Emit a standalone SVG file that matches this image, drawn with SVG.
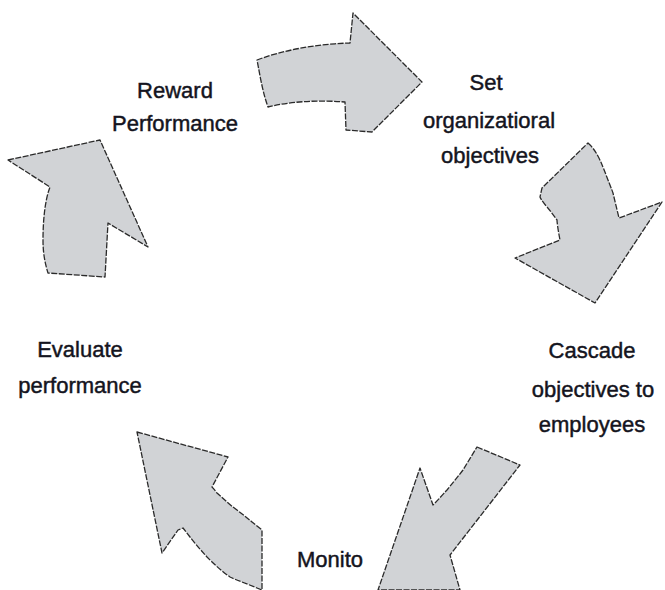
<svg xmlns="http://www.w3.org/2000/svg" width="665" height="590" viewBox="0 0 665 590">
<style>
.arrow{fill:#d1d3d6;stroke:#2a2a2a;stroke-width:1.3;stroke-dasharray:6 1.5;stroke-linejoin:round}
.lbl{font-family:"Liberation Sans",Arial,sans-serif;font-size:22px;fill:#141420;stroke:#141420;stroke-width:0.45;text-anchor:middle}
</style>
<rect width="665" height="590" fill="#ffffff"/>
<g id="connectors">
<path class="arrow" d="M257,60 C283,50 317,44 350,43 L353,13 L422,82 L372,132 L346,130 L345,102 C320,100 292,101 268,107 C262,90 260,75 257,60 Z"/>
<path class="arrow" d="M588,143 C596,150 600,160 603,167 C608,180 612,190 613,193 L619,218 L662,202 L595,303 L515,258 L560,240 C558,230 557,222 557,220 C552,213 548,208 547,207 C541,200 540,197 540,197 L542,188 Z"/>
<path class="arrow" d="M477,447 L520,465 L450,555 L460,590 L378,590 L420,468 L433,505 C440,498 445,492 447,490 C455,480 460,474 463,470 Z"/>
<path class="arrow" d="M137,432 L228,457 L212,487 C215,490 216,492 217,493 C225,500 230,505 233,507 C245,516 252,522 262,530 L262,590 L257,588 C245,583 236,580 230,577 C220,570 212,562 207,557 C198,547 193,541 190,537 L183,528 L178,530 L162,553 Z"/>
<path class="arrow" d="M8,160 L100,140 L148,247 L108,223 C107,240 106,260 105,277 L48,273 C44,260 43,250 43,240 C43,220 45,200 50,187 Z"/>
</g>
<g id="node-reward">
<text class="lbl" x="175" y="98">Reward</text>
<text class="lbl" x="175" y="131">Performance</text>
</g>
<g id="node-set">
<text class="lbl" x="486" y="90">Set</text>
<text class="lbl" x="489" y="128">organizatioral</text>
<text class="lbl" x="490" y="163">objectives</text>
</g>
<g id="node-cascade">
<text class="lbl" x="592" y="358">Cascade</text>
<text class="lbl" x="593" y="397">objectives to</text>
<text class="lbl" x="592" y="432">employees</text>
</g>
<g id="node-monitor">
<text class="lbl" x="297" y="567" style="text-anchor:start">Monito</text>
</g>
<g id="node-evaluate">
<text class="lbl" x="80" y="357">Evaluate</text>
<text class="lbl" x="80" y="393">performance</text>
</g>
</svg>
